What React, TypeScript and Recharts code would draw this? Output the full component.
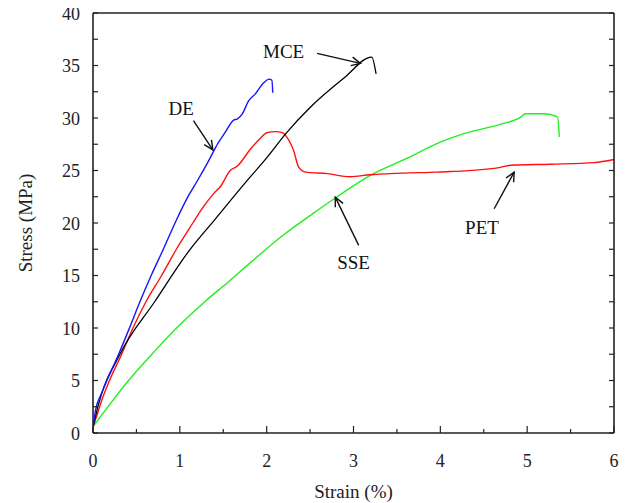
import React from 'react';
import { LineChart, Line, XAxis, YAxis, ReferenceLine, ReferenceDot } from 'recharts';

// ---- data (strain %, stress MPa) ----
const deStrain = [0, 0.03, 0.1, 0.17, 0.23, 0.3, 0.42, 0.54, 0.67, 0.81, 0.95, 1.1, 1.2, 1.33, 1.44, 1.52, 1.62, 1.66, 1.72, 1.79, 1.87, 1.96, 2.03, 2.06, 2.07];
const deStress = [0.6, 2.2, 3.8, 5.2, 6.3, 7.6, 10.0, 12.5, 15.0, 17.5, 20.1, 22.6, 24.0, 25.9, 27.6, 28.6, 29.8, 29.9, 30.4, 31.6, 32.3, 33.3, 33.7, 33.6, 32.4];

const petStrain = [0, 0.05, 0.1, 0.19, 0.33, 0.46, 0.61, 0.79, 0.96, 1.15, 1.25, 1.39, 1.47, 1.58, 1.66, 1.81, 1.93, 2.0, 2.1, 2.18, 2.23, 2.31, 2.37, 2.45, 2.7, 2.96, 3.19, 3.43, 3.96, 4.12, 4.69, 4.81, 5.27, 5.77, 6.0];
const petStress = [0.6, 1.8, 3.1, 5.0, 7.5, 10.0, 12.5, 15.0, 17.5, 20.0, 21.3, 22.8, 23.5, 25.0, 25.4, 27.0, 28.1, 28.6, 28.7, 28.6, 28.2, 26.9, 25.3, 24.85, 24.7, 24.4, 24.6, 24.7, 24.85, 24.9, 25.3, 25.5, 25.6, 25.75, 26.05];

const mceStrain = [0, 0.06, 0.31, 0.71, 1.11, 1.41, 1.75, 2.0, 2.23, 2.5, 2.89, 3.21, 3.26];
const mceStress = [0.5, 2.6, 7.5, 12.5, 17.4, 20.4, 23.8, 26.2, 28.6, 31.0, 33.8, 35.8, 34.2];

const sseStrain = [0, 0.2, 0.4, 0.7, 1.0, 1.3, 1.56, 1.81, 2.2, 2.5, 2.81, 3.23, 3.6, 4.0, 4.31, 4.69, 4.93, 4.98, 5.19, 5.35, 5.37];
const sseStress = [0.6, 2.8, 4.9, 7.7, 10.3, 12.6, 14.4, 16.2, 18.9, 20.7, 22.5, 24.7, 26.1, 27.7, 28.6, 29.4, 30.1, 30.4, 30.4, 30.1, 28.2];

const xTicks = [0, 0.5, 1, 1.5, 2, 2.5, 3, 3.5, 4, 4.5, 5, 5.5, 6];
const yTicks = [0, 2.5, 5, 7.5, 10, 12.5, 15, 17.5, 20, 22.5, 25, 27.5, 30, 32.5, 35, 37.5, 40];

// annotations: label text, label position, arrow start, arrow end (data coords)
const annLabels = ['DE', 'MCE', 'SSE', 'PET'];
const annLabelX = [1.015, 2.195, 3.0, 4.48];
const annLabelY = [30.9, 36.36, 16.28, 19.6];
const annFromX = [1.157, 2.58, 3.06, 4.62];
const annFromY = [29.75, 36.15, 17.87, 21.36];
const annToX = [1.38, 3.08, 2.79, 4.85];
const annToY = [26.97, 35.2, 22.46, 24.84];

const zip = (xs: number[], ys: number[]) => xs.map((x, i) => ({ strain: x, stress: ys[i] }));
const deData = zip(deStrain, deStress);
const petData = zip(petStrain, petStress);
const mceData = zip(mceStrain, mceStress);
const sseData = zip(sseStrain, sseStress);

const FONT = '"Liberation Serif", "Times New Roman", serif';
const INK = '#222';

const BottomTick = (p: any) => {
  const v = p.payload.value;
  const major = Math.abs(v - Math.round(v)) < 1e-6;
  return (
    <g>
      <line x1={p.x} y1={p.y} x2={p.x} y2={p.y - (major ? 7 : 4)} stroke={INK} strokeWidth={1.2} />
      {major && (
        <text x={p.x} y={p.y + 34} textAnchor="middle" fontFamily={FONT} fontSize={18} fill={INK}>
          {v}
        </text>
      )}
    </g>
  );
};

const LeftTick = (p: any) => {
  const v = p.payload.value;
  const major = Math.abs(v / 5 - Math.round(v / 5)) < 1e-6;
  return (
    <g>
      <line x1={p.x} y1={p.y} x2={p.x + 5} y2={p.y} stroke={INK} strokeWidth={1.2} />
      {major && (
        <text x={p.x - 13} y={p.y + 6.5} textAnchor="end" fontFamily={FONT} fontSize={18} fill={INK}>
          {v}
        </text>
      )}
    </g>
  );
};

const RightTick = (p: any) => (
  <line x1={p.x} y1={p.y} x2={p.x - 5} y2={p.y} stroke={INK} strokeWidth={1.2} />
);

const TopTick = (p: any) => (
  <line x1={p.x} y1={p.y} x2={p.x} y2={p.y + 2} stroke={INK} strokeWidth={1} />
);

const ArrowShape = (p: any) => {
  const { x1, y1, x2, y2 } = p;
  const ang = Math.atan2(y2 - y1, x2 - x1);
  const L = 10;
  const s = 0.45;
  const ax = x2 - L * Math.cos(ang - s);
  const ay = y2 - L * Math.sin(ang - s);
  const bx = x2 - L * Math.cos(ang + s);
  const by = y2 - L * Math.sin(ang + s);
  return (
    <g stroke="#111" strokeWidth={1.4} fill="none">
      <line x1={x1} y1={y1} x2={x2} y2={y2} />
      <polyline points={`${ax},${ay} ${x2},${y2} ${bx},${by}`} />
    </g>
  );
};

export default function App() {
  return (
    <div>
      <style>{'svg.recharts-surface { overflow: visible; } .recharts-wrapper { overflow: visible; }'}</style>
      <LineChart width={619} height={495} margin={{ top: 0, right: 0, bottom: 0, left: 0 }}>
        <XAxis
          xAxisId={0}
          dataKey="strain"
          type="number"
          domain={[0, 6]}
          ticks={xTicks}
          interval={0}
          allowDataOverflow
          height={70}
          tickSize={0}
          tickMargin={0}
          tickLine={false}
          tick={BottomTick}
          axisLine={{ stroke: INK, strokeWidth: 1.6 }}
          label={{ value: 'Strain (%)', position: 'insideBottom', offset: 5, fontFamily: FONT, fontSize: 19, fill: INK }}
        />
        <XAxis
          xAxisId="t"
          orientation="top"
          type="number"
          domain={[0, 6]}
          ticks={xTicks}
          interval={0}
          allowDataOverflow
          height={5}
          tickSize={0}
          tickMargin={0}
          tickLine={false}
          tick={TopTick}
          axisLine={{ stroke: INK, strokeWidth: 1.6 }}
        />
        <YAxis
          yAxisId={0}
          type="number"
          domain={[0, 40]}
          ticks={yTicks}
          interval={0}
          allowDataOverflow
          width={85}
          tickSize={0}
          tickMargin={0}
          tickLine={false}
          tick={LeftTick}
          axisLine={{ stroke: INK, strokeWidth: 1.6 }}
          label={{ value: 'Stress (MPa)', angle: -90, position: 'insideLeft', offset: 17, fontFamily: FONT, fontSize: 19, fill: INK, style: { textAnchor: 'middle' } }}
        />
        <YAxis
          yAxisId="r"
          orientation="right"
          type="number"
          domain={[0, 40]}
          ticks={yTicks}
          interval={0}
          allowDataOverflow
          width={13}
          tickSize={0}
          tickMargin={0}
          tickLine={false}
          tick={RightTick}
          axisLine={{ stroke: INK, strokeWidth: 1.6 }}
        />
        <Line data={sseData} dataKey="stress" stroke="#22ee22" strokeWidth={1.4} dot={false} type="monotone" isAnimationActive={false} />
        <Line data={petData} dataKey="stress" stroke="#ff1010" strokeWidth={1.4} dot={false} type="monotone" isAnimationActive={false} />
        <Line data={mceData} dataKey="stress" stroke="#000000" strokeWidth={1.3} dot={false} type="monotone" isAnimationActive={false} />
        <Line data={deData} dataKey="stress" stroke="#1515ff" strokeWidth={1.4} dot={false} type="monotone" isAnimationActive={false} />
        {annLabels.map((t, i) => (
          <ReferenceLine
            key={'a' + i}
            segment={[{ x: annFromX[i], y: annFromY[i] }, { x: annToX[i], y: annToY[i] }]}
            shape={ArrowShape}
          />
        ))}
        {annLabels.map((t, i) => (
          <ReferenceDot
            key={'l' + i}
            x={annLabelX[i]}
            y={annLabelY[i]}
            r={0}
            shape={(p: any) => (
              <text x={p.cx} y={p.cy + 6.5} textAnchor="middle" fontFamily={FONT} fontSize={19} fill="#111">
                {t}
              </text>
            )}
          />
        ))}
      </LineChart>
    </div>
  );
}
